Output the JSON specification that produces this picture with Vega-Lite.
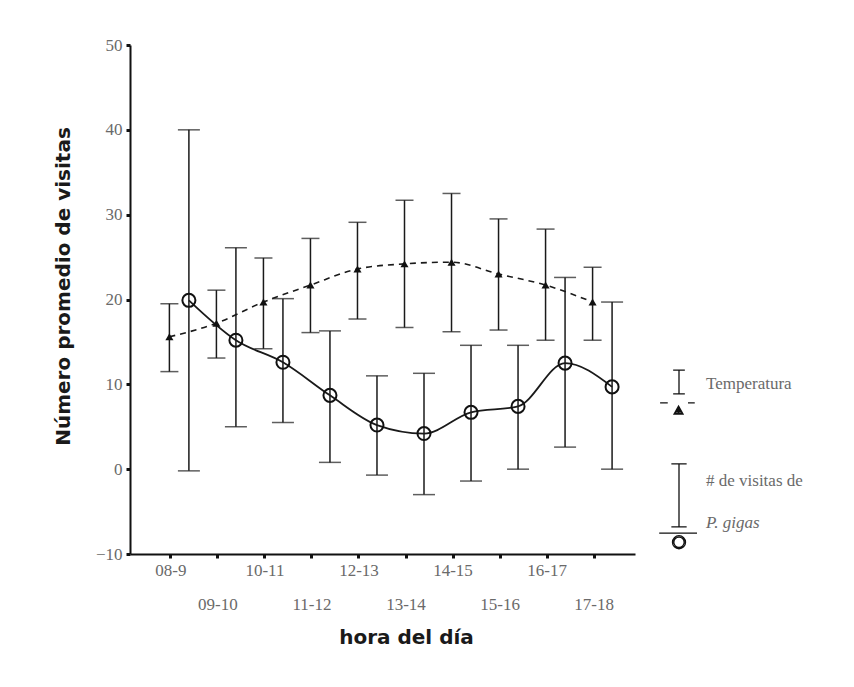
{
  "$schema": "https://vega.github.io/schema/vega-lite/v6.json",
  "width": 505,
  "height": 509,
  "autosize": {"type": "none"},
  "padding": {"left": 130, "top": 45, "right": 219, "bottom": 133},
  "background": "white",
  "config": {
    "view": {"stroke": null},
    "font": "Liberation Serif",
    "axis": {
      "grid": false,
      "domainColor": "#111",
      "domainWidth": 2,
      "tickColor": "#111",
      "tickWidth": 3,
      "tickSize": 4,
      "labelFont": "Liberation Serif",
      "labelFontSize": 17,
      "labelColor": "#6a6a6a",
      "titleFont": "DejaVu Sans",
      "titleFontWeight": "bold",
      "titleFontSize": 20,
      "titleColor": "#1a1a1a"
    },
    "legend": {
      "title": null,
      "orient": "none",
      "padding": 0,
      "symbolSize": 8100,
      "symbolOpacity": 1,
      "symbolStrokeColor": "#111",
      "symbolStrokeWidth": 1.3,
      "labelOffset": -19,
      "labelFont": "Liberation Serif",
      "labelFontSize": 17,
      "labelColor": "#6a6a6a",
      "labelLimit": 0
    }
  },
  "data": {
    "values": [
      {"hora": "08-9", "serie": "Temperatura", "media": 15.6, "sup": 19.5, "inf": 11.5},
      {"hora": "09-10", "serie": "Temperatura", "media": 17.2, "sup": 21.1, "inf": 13.1},
      {"hora": "10-11", "serie": "Temperatura", "media": 19.7, "sup": 24.9, "inf": 14.2},
      {"hora": "11-12", "serie": "Temperatura", "media": 21.7, "sup": 27.2, "inf": 16.1},
      {"hora": "12-13", "serie": "Temperatura", "media": 23.6, "sup": 29.1, "inf": 17.7},
      {"hora": "13-14", "serie": "Temperatura", "media": 24.2, "sup": 31.7, "inf": 16.7},
      {"hora": "14-15", "serie": "Temperatura", "media": 24.4, "sup": 32.5, "inf": 16.2},
      {"hora": "15-16", "serie": "Temperatura", "media": 23.0, "sup": 29.5, "inf": 16.4},
      {"hora": "16-17", "serie": "Temperatura", "media": 21.7, "sup": 28.3, "inf": 15.2},
      {"hora": "17-18", "serie": "Temperatura", "media": 19.7, "sup": 23.8, "inf": 15.2},
      {"hora": "08-9", "serie": "Visitas", "media": 19.9, "sup": 40.0, "inf": -0.2},
      {"hora": "09-10", "serie": "Visitas", "media": 15.2, "sup": 26.1, "inf": 5.0},
      {"hora": "10-11", "serie": "Visitas", "media": 12.6, "sup": 20.1, "inf": 5.5},
      {"hora": "11-12", "serie": "Visitas", "media": 8.7, "sup": 16.3, "inf": 0.8},
      {"hora": "12-13", "serie": "Visitas", "media": 5.2, "sup": 11.0, "inf": -0.7},
      {"hora": "13-14", "serie": "Visitas", "media": 4.2, "sup": 11.3, "inf": -3.0},
      {"hora": "14-15", "serie": "Visitas", "media": 6.7, "sup": 14.6, "inf": -1.4},
      {"hora": "15-16", "serie": "Visitas", "media": 7.4, "sup": 14.6, "inf": 0.0},
      {"hora": "16-17", "serie": "Visitas", "media": 12.5, "sup": 22.6, "inf": 2.6},
      {"hora": "17-18", "serie": "Visitas", "media": 9.7, "sup": 19.7, "inf": 0.0}
    ]
  },
  "resolve": {"scale": {"shape": "independent"}, "legend": {"shape": "independent"}},
  "encoding": {
    "x": {
      "field": "hora",
      "type": "ordinal",
      "sort": null,
      "scale": {"type": "band", "paddingInner": 0, "paddingOuter": 0.37},
      "axis": {
        "title": "hora del día",
        "labelAngle": 0,
        "labelPadding": 4,
        "labelLineHeight": 34,
        "labelBaseline": "top",
        "labelExpr": "(datum.value == '09-10' || datum.value == '11-12' || datum.value == '13-14' || datum.value == '15-16' || datum.value == '17-18') ? ['', datum.label] : datum.label",
        "titlePadding": 15,
        "titleX": 276
      }
    },
    "xOffset": {
      "field": "serie",
      "type": "nominal",
      "scale": {"type": "band", "domain": ["Temperatura", "Visitas"], "range": [12.25, 51.25], "paddingInner": 0, "paddingOuter": 0}
    }
  },
  "layer": [
    {
      "mark": {"type": "rule", "color": "#1a1a1a", "strokeWidth": 1.5},
      "encoding": {
        "y": {
          "field": "inf",
          "type": "quantitative",
          "scale": {"domain": [-10, 50], "nice": false, "zero": false},
          "axis": {
            "title": "Número promedio de visitas",
            "values": [-10, 0, 10, 20, 30, 40, 50],
            "labelPadding": 4,
            "titlePadding": 22,
            "titleY": 241
          }
        },
        "y2": {"field": "sup"}
      }
    },
    {
      "transform": [{"filter": "datum.serie == 'Temperatura'"}],
      "mark": {"type": "tick", "color": "#1a1a1a", "thickness": 1.5, "size": 18},
      "encoding": {"y": {"field": "sup", "type": "quantitative"}}
    },
    {
      "transform": [{"filter": "datum.serie == 'Temperatura'"}],
      "mark": {"type": "tick", "color": "#1a1a1a", "thickness": 1.5, "size": 18},
      "encoding": {"y": {"field": "inf", "type": "quantitative"}}
    },
    {
      "transform": [{"filter": "datum.serie == 'Visitas'"}],
      "mark": {"type": "tick", "color": "#1a1a1a", "thickness": 1.5, "size": 22},
      "encoding": {"y": {"field": "sup", "type": "quantitative"}}
    },
    {
      "transform": [{"filter": "datum.serie == 'Visitas'"}],
      "mark": {"type": "tick", "color": "#1a1a1a", "thickness": 1.5, "size": 22},
      "encoding": {"y": {"field": "inf", "type": "quantitative"}}
    },
    {
      "transform": [{"filter": "datum.serie == 'Temperatura'"}],
      "mark": {"type": "line", "color": "#1a1a1a", "strokeWidth": 1.6, "strokeDash": [6, 5], "interpolate": "monotone"},
      "encoding": {"y": {"field": "media", "type": "quantitative"}}
    },
    {
      "transform": [{"filter": "datum.serie == 'Visitas'"}],
      "mark": {"type": "line", "color": "#1a1a1a", "strokeWidth": 1.8, "interpolate": "monotone"},
      "encoding": {"y": {"field": "media", "type": "quantitative"}}
    },
    {
      "transform": [{"filter": "datum.serie == 'Temperatura'"}],
      "mark": {"type": "point", "shape": "triangle-up", "filled": true, "color": "#111", "size": 65, "opacity": 1},
      "encoding": {"y": {"field": "media", "type": "quantitative"}}
    },
    {
      "transform": [{"filter": "datum.serie == 'Visitas'"}],
      "mark": {"type": "point", "shape": "circle", "filled": false, "color": "#111", "size": 170, "strokeWidth": 2, "opacity": 1},
      "encoding": {"y": {"field": "media", "type": "quantitative"}}
    },
    {
      "transform": [{"filter": "datum.serie == 'Temperatura'"}],
      "mark": {"type": "point", "opacity": 0, "filled": false, "color": "#111", "strokeWidth": 1.3},
      "encoding": {
        "y": {"field": "media", "type": "quantitative"},
        "shape": {
          "field": "serie",
          "type": "nominal",
          "scale": {
            "domain": ["Temperatura"],
            "range": ["M-0.13,-0.31L0.13,-0.31M0,-0.31L0,0.22M-0.13,0.22L0.13,0.22M-0.42,0.42L-0.25,0.42M0.2,0.42L0.35,0.42M-0.11,0.67L0.09,0.67L-0.01,0.49ZM-0.027,0.52L0.007,0.52M-0.043,0.55L0.023,0.55M-0.06,0.58L0.04,0.58M-0.077,0.61L0.057,0.61M-0.093,0.64L0.073,0.64M-0.01,0.5L-0.01,0.67"]
          },
          "legend": {"legendX": 503, "legendY": 293}
        }
      }
    },
    {
      "transform": [{"filter": "datum.serie == 'Visitas'"}],
      "mark": {"type": "point", "opacity": 0, "filled": false, "color": "#111", "strokeWidth": 1.3},
      "encoding": {
        "y": {"field": "media", "type": "quantitative"},
        "shape": {
          "field": "serie",
          "type": "nominal",
          "scale": {
            "domain": ["Visitas"],
            "range": ["M-0.17,-0.38L0.17,-0.38M0,-0.38L0,1.02M-0.17,1.02L0.17,1.02M-0.44,1.16L0.4,1.16M-0.145,1.36A0.145,0.145 0 1,0 0.145,1.36A0.145,0.145 0 1,0 -0.145,1.36ZM-0.115,1.36A0.115,0.115 0 1,1 0.115,1.36A0.115,0.115 0 1,1 -0.115,1.36Z"]
          },
          "legend": {"legendX": 503, "legendY": 390, "labelExpr": "'# de visitas de'"}
        }
      }
    },
    {
      "transform": [{"filter": "datum.serie == 'Visitas'"}],
      "mark": {"type": "point", "opacity": 0, "filled": false, "color": "#111", "strokeWidth": 1.3},
      "encoding": {
        "y": {"field": "media", "type": "quantitative"},
        "shape": {
          "field": "hora",
          "type": "nominal",
          "scale": {"domain": ["08-9"], "range": ["M0,0L0,0"]},
          "legend": {"legendX": 503, "legendY": 432, "labelExpr": "'P. gigas'", "labelFontStyle": "italic"}
        }
      }
    }
  ]
}
